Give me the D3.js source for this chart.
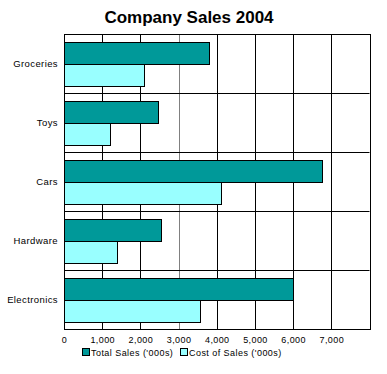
<!DOCTYPE html>
<html>
<head>
<meta charset="utf-8">
<script src="https://cdn.jsdelivr.net/npm/d3@7"></script>
<style>
  body { margin: 0; background: #fff; }
  svg { display: block; font-family: Arial, "Liberation Sans", sans-serif; }
</style>
</head>
<body>
<div id="chart"></div>
<script>
// data
var categories = ["Groceries", "Toys", "Cars", "Hardware", "Electronics"];
var seriesNames = ["Total Sales ('000s)", "Cost of Sales ('000s)"];
var totalSales = [3800, 2450, 6750, 2550, 6000];
var costOfSales = [2100, 1200, 4100, 1400, 3550];
var xTicks = [0, 1000, 2000, 3000, 4000, 5000, 6000, 7000];
var colors = ["#009999", "#99ffff"];

var width = 387, height = 374;
var margin = {top: 34, right: 17.5, bottom: 45, left: 64};
var plotW = width - margin.left - margin.right;
var plotH = height - margin.top - margin.bottom;

var svg = d3.select("#chart").append("svg")
    .attr("width", width)
    .attr("height", height);

// title
svg.append("text")
    .attr("x", 189)
    .attr("y", 23)
    .attr("text-anchor", "middle")
    .attr("font-size", 17)
    .attr("font-weight", "bold")
    .text("Company Sales 2004");

var g = svg.append("g")
    .attr("transform", "translate(" + margin.left + "," + margin.top + ")");

// scales
var x = d3.scaleLinear().domain([0, 8000]).range([0, plotW]);
var y = d3.scaleBand().domain(categories).range([0, plotH]).padding(0);
var ySub = d3.scaleBand().domain([0, 1]).range([0, y.bandwidth()])
    .paddingInner(0).paddingOuter(0.36);

// vertical grid lines
g.append("g").selectAll("line")
    .data(xTicks.slice(1))
    .enter()
    .append("line")
    .attr("x1", function(d) { return Math.round(x(d)) + 0.5; })
    .attr("x2", function(d) { return Math.round(x(d)) + 0.5; })
    .attr("y1", 0)
    .attr("y2", plotH)
    .attr("stroke", function(d) { return d === 3000 ? "#808080" : "#000"; })
    .attr("stroke-width", 1);

// horizontal lines between categories
g.append("g").selectAll("line")
    .data(categories.slice(1))
    .enter()
    .append("line")
    .attr("x1", 0)
    .attr("x2", plotW)
    .attr("y1", function(d) { return Math.round(y(d)) + 0.5; })
    .attr("y2", function(d) { return Math.round(y(d)) + 0.5; })
    .attr("stroke", "#000");

// bars
var rows = categories.map(function(c, i) {
    return {cat: c, values: [totalSales[i], costOfSales[i]]};
});

var groups = g.selectAll(".cat")
    .data(rows)
    .enter()
    .append("g")
    .attr("transform", function(d) { return "translate(0," + y(d.cat) + ")"; });

groups.selectAll("rect")
    .data(function(d) { return d.values; })
    .enter()
    .append("rect")
    .attr("x", 0.5)
    .attr("y", function(d, i) { return Math.round(ySub(i)) + 0.5; })
    .attr("width", function(d) { return Math.round(x(d)); })
    .attr("height", Math.round(ySub.bandwidth()))
    .attr("fill", function(d, i) { return colors[i]; })
    .attr("stroke", "#000")
    .attr("stroke-width", 1);

// frame
g.append("rect")
    .attr("x", 0.5)
    .attr("y", 0.5)
    .attr("width", Math.round(plotW))
    .attr("height", Math.round(plotH))
    .attr("fill", "none")
    .attr("stroke", "#000");

// x axis labels
var xAxis = d3.axisBottom(x)
    .tickValues(xTicks)
    .tickSize(0)
    .tickPadding(8)
    .tickFormat(d3.format(","));
var xg = g.append("g")
    .attr("transform", "translate(0," + plotH + ")")
    .call(xAxis);
xg.select(".domain").remove();
xg.selectAll("text")
    .attr("font-size", 9)
    .attr("letter-spacing", 0.4)
    .attr("font-family", "Arial, 'Liberation Sans', sans-serif")
    .attr("fill", "#000");

// y axis labels
var yAxis = d3.axisLeft(y).tickSize(0).tickPadding(6);
var yg = g.append("g").call(yAxis);
yg.select(".domain").remove();
yg.selectAll("text")
    .attr("font-size", 9.5)
    .attr("letter-spacing", 0.4)
    .attr("font-family", "Arial, 'Liberation Sans', sans-serif")
    .attr("fill", "#000");

// legend
var legendX = [82, 180];
var legend = svg.append("g").selectAll("g")
    .data(seriesNames)
    .enter()
    .append("g")
    .attr("transform", function(d, i) { return "translate(" + legendX[i] + ",348)"; });
legend.append("rect")
    .attr("x", 0.5)
    .attr("y", 0.5)
    .attr("width", 7)
    .attr("height", 7)
    .attr("fill", function(d, i) { return colors[i]; })
    .attr("stroke", "#000");
legend.append("text")
    .attr("x", 9)
    .attr("y", 8)
    .attr("font-size", 9)
    .attr("letter-spacing", 0.45)
    .text(function(d) { return d; });
</script>
</body>
</html>
